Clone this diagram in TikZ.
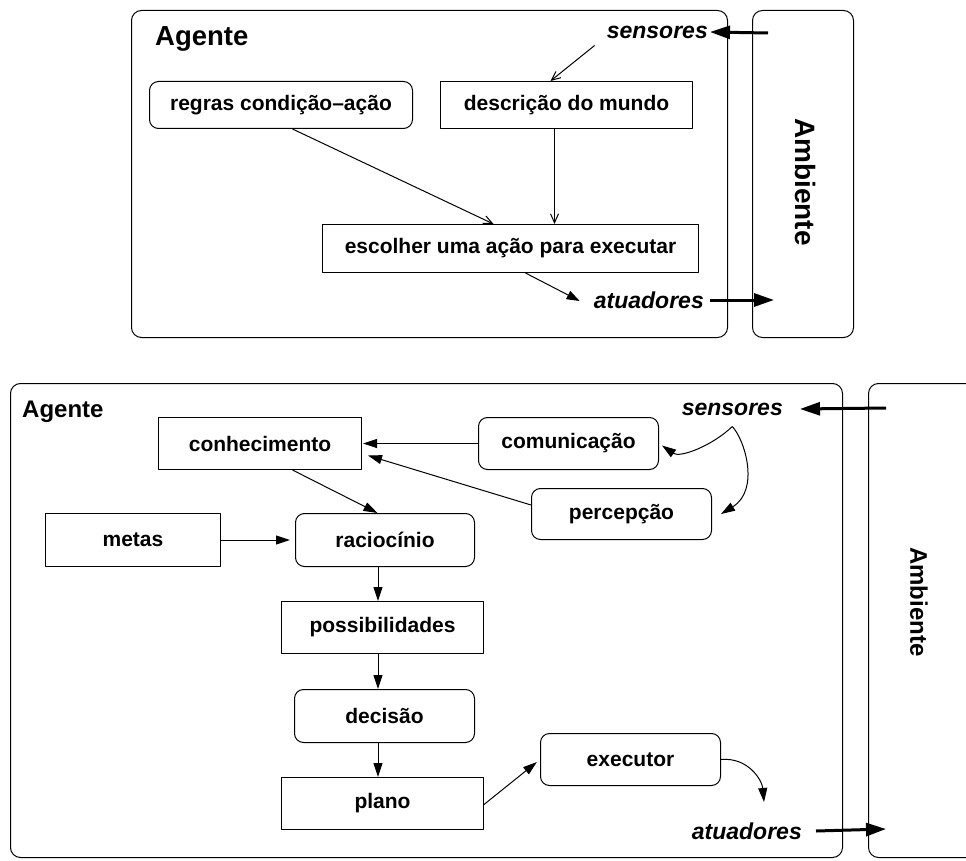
\documentclass[tikz,border=0pt]{standalone}
\usepackage{fontspec}
\setmainfont{Liberation Sans}
\usetikzlibrary{arrows.meta}

\begin{document}
\begin{tikzpicture}[x=1pt,y=-1pt,
  line join=round,
  frame/.style={draw, line width=1pt, rounded corners=10pt, anchor=north west, inner sep=0pt},
  sqbox/.style={draw, line width=1pt, anchor=north west, inner sep=0pt,
                font=\bfseries\fontsize{21}{25}\selectfont},
  rbox/.style={sqbox, rounded corners=9pt},
  iolabel/.style={font=\bfseries\itshape\fontsize{23}{27}\selectfont, inner sep=0pt, anchor=east},
  agentlabel/.style={font=\bfseries\fontsize{#1}{#1}\selectfont, inner sep=0pt, anchor=base west},
  envlabel/.style={font=\bfseries\fontsize{#1}{#1}\selectfont, inner sep=0pt, rotate=-90},
  thinarrow/.style={line width=1pt, -{Straight Barb[length=9pt,width=8pt]}},
  flow/.style={line width=1pt, -{Triangle[length=14pt,width=9pt]}},
  bigarrow/.style={line width=3pt, -{Triangle[length=20pt,width=13pt]}},
]
\clip (0,0) rectangle (966,861);

% ---------------- simple reflex agent ----------------
\node[frame, minimum width=596, minimum height=327] (agentT) at (131,10) {};
\node[frame, minimum width=101, minimum height=327] (envT) at (752,10) {};
\node[agentlabel=27.5] (agentTlbl) at (155,46) {Agente};
\node[envlabel=28] (envTlbl) at (805,182) {Ambiente};

\node[iolabel] (sensT) at (708,32) {sensores};
\node[iolabel] (atuT) at (704,300) {atuadores};
\coordinate (sensInT) at (768,33);
\coordinate (atuOutT) at (774,300);

\node[rbox, minimum width=263, minimum height=47] (regras) at (149,81) {regras condição–ação};
\node[sqbox, minimum width=252, minimum height=47] (desc) at (440,81) {descrição do mundo};
\node[sqbox, minimum width=376, minimum height=48] (escolher) at (322,224) {escolher uma ação para executar};

\draw[bigarrow] (sensInT) -- ([xshift=2pt]sensT.east);
\draw[bigarrow] ([xshift=6pt]atuT.east) -- (atuOutT);
\draw[thinarrow] ([shift={(-12,7)}]sensT.south west) -- ([xshift=-16pt]desc.north);
\draw[thinarrow] ([xshift=11.5pt]regras.south) -- ([xshift=-17pt]escolher.north);
\draw[thinarrow] ([xshift=-12pt]desc.south) -- ([xshift=-12pt]desc.south |- escolher.north);
\draw[line width=1pt, -{Triangle[length=13pt,width=9pt]}]
  ([xshift=15pt]escolher.south) -- ([shift={(-14,1)}]atuT.west);

% ---------------- agent with knowledge and goals ----------------
\node[frame, minimum width=832, minimum height=474] (agentB) at (10,383) {};
\node[frame, minimum width=130, minimum height=474] (envB) at (868,383) {};
\node[agentlabel=24] (agentBlbl) at (22,417) {Agente};
\node[envlabel=24] (envBlbl) at (919,602) {Ambiente};

\node[iolabel] (sensB) at (783,409) {sensores};
\node[iolabel] (atuB) at (802,831) {atuadores};
\coordinate (sensInB) at (886,408);
\coordinate (atuOutB) at (886,829);

\node[sqbox, minimum width=203, minimum height=52] (conhec) at (158,417) {conhecimento};
\node[rbox,  minimum width=180, minimum height=52] (comun) at (478,417) {comunicação};
\node[rbox,  minimum width=180, minimum height=51] (perc) at (531,488) {percepção};
\node[sqbox, minimum width=175, minimum height=53] (metas) at (45,513) {metas};
\node[rbox,  minimum width=179, minimum height=53] (racioc) at (295,513) {raciocínio};
\node[sqbox, minimum width=202, minimum height=52] (possib) at (281,601) {possibilidades};
\node[rbox,  minimum width=180, minimum height=53] (decisao) at (294,689) {decisão};
\node[sqbox, minimum width=202, minimum height=52] (plano) at (281,777) {plano};
\node[rbox,  minimum width=180, minimum height=52] (exec) at (540,733) {executor};

\coordinate (spine) at (378,0);
\coordinate (sensSplit) at ([yshift=-11pt]sensB.south);
\coordinate (execOut) at (764,802);

\draw[bigarrow] (sensInB) -- ([xshift=17pt]sensB.east);
\draw[bigarrow] ([xshift=14pt]atuB.east) -- (atuOutB);

\draw[flow] (comun.west) -- ([xshift=1pt]conhec.east);
\draw[flow] ([yshift=9pt]perc.west) -- ([shift={(6,12)}]conhec.east);
\draw[flow] ([xshift=32.5pt]conhec.south) -- ([xshift=-7.5pt]racioc.north);
\draw[flow, shorten >=5pt] (metas.east) -- (racioc.west);
\draw[flow] (racioc.south -| spine) -- (possib.north -| spine);
\draw[flow] (possib.south -| spine) -- (decisao.north -| spine);
\draw[flow] (decisao.south -| spine) -- (plano.north -| spine);
\draw[flow, shorten >=4pt] ([yshift=-1pt]plano.east) -- (exec.west);

\draw[flow] (sensSplit) .. controls (712,446) and (680,458) .. ([shift={(3,2)}]comun.east);
\draw[flow] (sensSplit) .. controls (745,440) and (760,490) .. ([xshift=9pt]perc.east);
\draw[flow] (exec.east) .. controls (748,757) and (762,780) .. (execOut);
\end{tikzpicture}
\end{document}
